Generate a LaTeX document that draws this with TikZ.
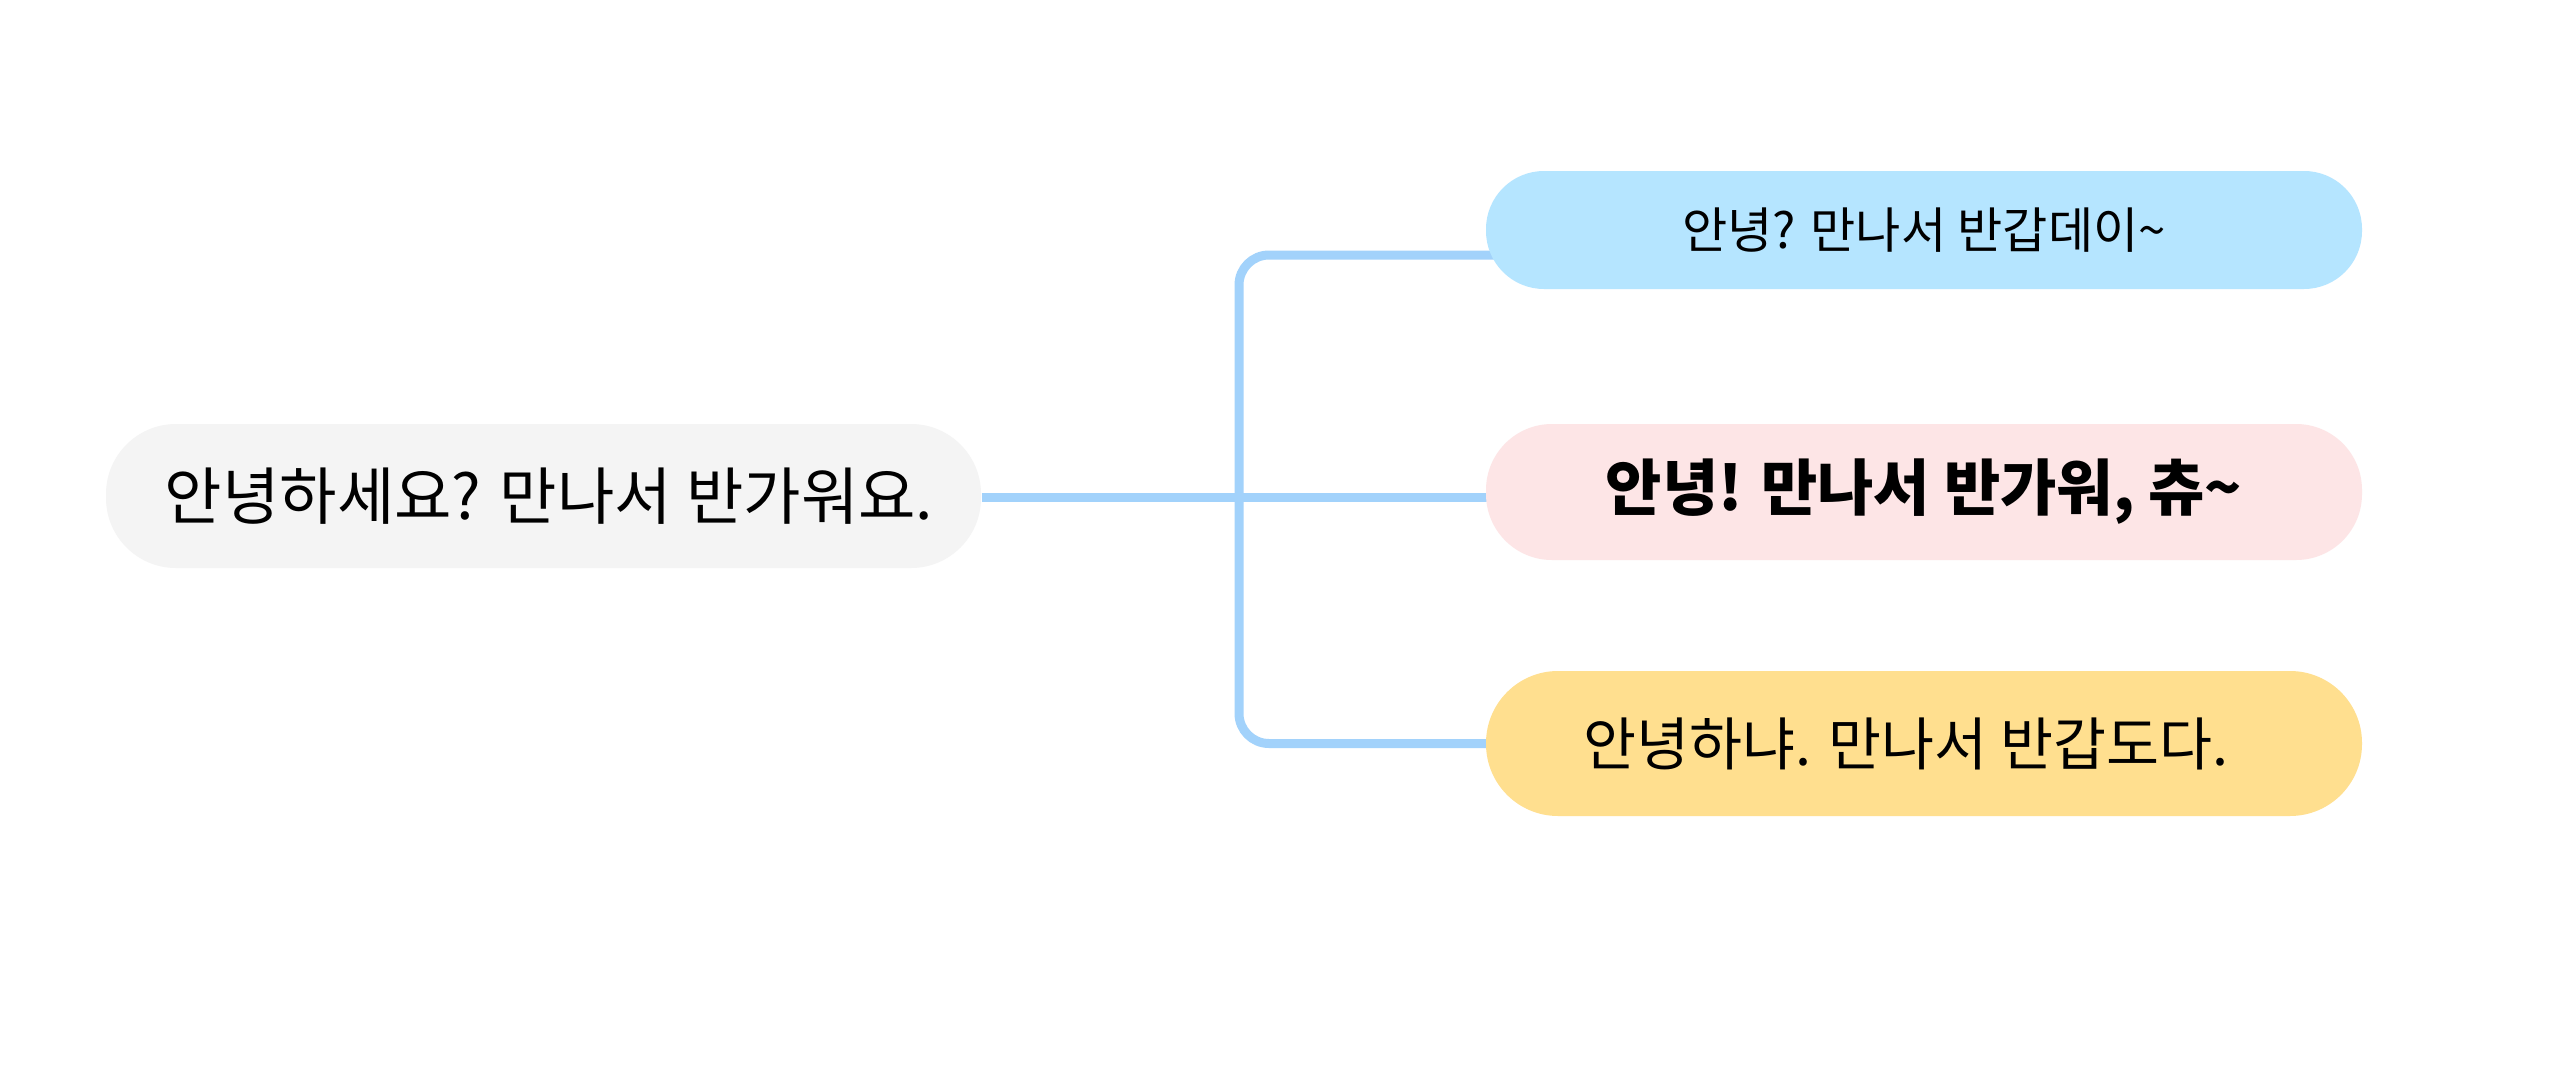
\documentclass[tikz,border=0pt]{standalone}
\usepackage{fontspec}
\setmainfont{Noto Sans CJK KR}
\newfontfamily\kr{Noto Sans CJK KR}
\pgfdeclarelayer{bg}
\pgfsetlayers{bg,main}
\definecolor{conncol}{HTML}{A2D2FB}
\definecolor{leftfill}{HTML}{F4F4F4}
\definecolor{topfill}{HTML}{B5E5FF}
\definecolor{midfill}{HTML}{FDE5E6}
\definecolor{botfill}{HTML}{FFDF8F}
\tikzset{
  pill/.style={draw=none, inner sep=0pt, align=center, text=black},
  conn/.style={draw=conncol, line width=2.25pt}
}
\begin{document}
\begin{tikzpicture}[x=0.25pt,y=-0.25pt]
\useasboundingbox (0,0) rectangle (2560,1071);
\node[pill, fill=leftfill, minimum width=218.75pt, minimum height=36pt, rounded corners=17.5pt,
  font=\kr\fontsize{15.6pt}{18pt}\selectfont] (L) at (543.5,496) {\hspace*{2.75pt}안녕하세요? 만나서 반가워요.};
\node[pill, fill=topfill, minimum width=219pt, minimum height=29.5pt, rounded corners=14.5pt,
  font=\kr\fontsize{12.3pt}{14pt}\selectfont] (T) at (1924,230) {안녕? 만나서 반갑데이\textasciitilde};
\node[pill, fill=midfill, minimum width=219pt, minimum height=34pt, rounded corners=16.5pt,
  font=\kr\bfseries\fontsize{15.3pt}{17pt}\selectfont] (M) at (1924,492) {안녕! 만나서 반가워, 츄\textasciitilde};
\node[pill, fill=botfill, minimum width=219pt, minimum height=36.25pt, rounded corners=18pt,
  font=\kr\fontsize{14.4pt}{16pt}\selectfont] (B) at (1924,743.5) {안녕하냐. 만나서 반갑도다.\hspace*{9pt}};
\coordinate (j) at (1239,495);
\begin{pgfonlayer}{bg}
\fill[white] (0,0) rectangle (2560,1071);
\draw[conn] ([yshift=-0.25pt]L.east) -- ([yshift=-0.25pt]L.east -| M.center);
\draw[conn, rounded corners=7.5pt] ([yshift=-6.25pt,xshift=10pt]T.west) -| (j) |- ([xshift=10pt]B.west);
\end{pgfonlayer}
\end{tikzpicture}
\end{document}
